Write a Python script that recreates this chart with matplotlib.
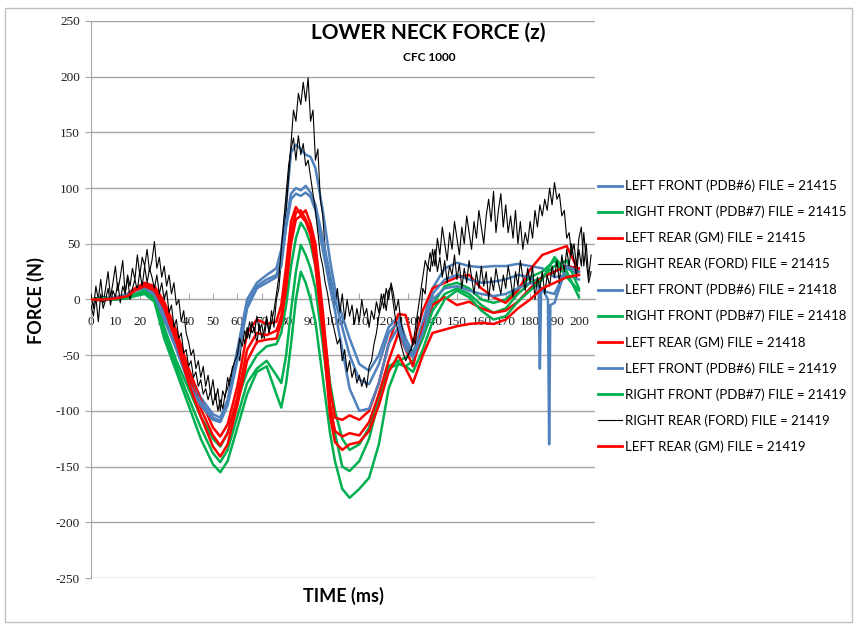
import matplotlib
matplotlib.use("Agg")
import matplotlib.pyplot as plt
from matplotlib.patches import Rectangle

plt.rcParams["axes.unicode_minus"] = False

# time grid (ms) shared by the filtered (coloured) channels
T_MAIN = [0, 5, 10, 15, 18, 22, 26, 30, 35, 40, 45, 50, 53, 56, 60, 64, 68, 72, 76, 78,
          80, 82, 84, 86, 88, 90, 92, 95, 98, 100, 103, 106, 110, 114, 118, 122, 126, 129, 132, 136,
          140, 145, 150, 155, 160, 165, 170, 175, 180, 185, 190, 195, 200]

LF_21415 = [0, 2, 0, 3, 8, 10, 5, -12, -35, -65, -88, -103, -106, -90, -45, 0, 15, 22, 28, 45,
            85, 132, 139, 135, 130, 128, 118, 80, 35, 10, -15, -35, -58, -64, -50, -25, -15, -35, -48, -20,
            10, 28, 33, 30, 29, 30, 30, 32, 30, 28, 20, 22, 18]
RF_21415 = [0, 2, 0, 2, 5, 8, 2, -25, -55, -80, -105, -125, -132, -120, -90, -65, -50, -42, -40, -30,
            -5, 30, 55, 69, 62, 50, 30, -20, -75, -100, -125, -135, -130, -115, -85, -60, -55, -52, -48, -30,
            -5, 12, 15, 10, 0, -3, 0, 10, 20, 25, 35, 20, 8]
LR_21415 = [0, -1, 1, 5, 10, 15, 12, -2, -28, -62, -90, -115, -123, -112, -78, -30, -18, -22, -20, -5,
            30, 70, 83, 76, 80, 68, 50, -10, -80, -106, -108, -104, -108, -100, -75, -40, -13, -14, -40, -10,
            10, 15, 20, 22, 10, 2, -3, 8, 27, 40, 44, 48, 25]
RF_21418 = [0, 1, 1, 2, 4, 6, 0, -30, -60, -88, -115, -138, -146, -135, -105, -75, -62, -55, -68, -75,
            -50, -10, 25, 49, 40, 28, 10, -40, -95, -120, -150, -154, -145, -125, -90, -62, -58, -60, -55, -35,
            -10, 5, 10, 5, -5, -12, -8, 5, 15, 20, 30, 35, 10]
LR_21418 = [0, 0, 0, 4, 9, 14, 10, -5, -32, -68, -98, -122, -131, -120, -88, -45, -30, -32, -28, -15,
            20, 60, 78, 80, 72, 62, 40, -20, -95, -118, -123, -120, -122, -110, -85, -55, -30, -45, -60, -25,
            -5, 2, -5, -2, -8, -12, -10, -2, 10, 20, 25, 30, 28]
RF_21419 = [0, 0, 0, 1, 3, 5, -2, -35, -65, -95, -125, -148, -155, -145, -115, -85, -65, -60, -85, -97,
            -75, -40, 0, 25, 15, 0, -20, -70, -120, -145, -170, -178, -170, -160, -130, -80, -57, -60, -65, -45,
            -20, 0, 8, 2, -10, -18, -15, -2, 8, 18, 38, 25, 2]
LR_21419 = [0, 0, 1, 3, 8, 12, 8, -8, -38, -75, -105, -132, -141, -130, -95, -55, -38, -36, -35, -20,
            10, 50, 72, 75, 70, 58, 30, -30, -105, -128, -135, -130, -128, -118, -95, -65, -50, -62, -75, -50,
            -30, -27, -24, -22, -21, -22, -18, -8, 0, 10, 15, 20, 22]

# the two left front channels with the dropouts near 184 and 188 ms
T_LF18 = [0, 5, 10, 15, 18, 22, 26, 30, 35, 40, 45, 50, 53, 56, 60, 64, 68, 72, 76, 78,
          80, 82, 84, 86, 88, 90, 92, 95, 98, 100, 103, 106, 110, 114, 118, 122, 126, 129, 132, 136,
          140, 145, 150, 155, 160, 165, 170, 175, 180, 183.5, 184, 184.5, 190, 195, 200]
LF_21418 = [0, 1, 2, 5, 9, 12, 6, -15, -40, -70, -92, -106, -109, -92, -50, -5, 12, 18, 22, 35,
            70, 95, 100, 98, 102, 96, 85, 55, 22, 0, -25, -50, -72, -76, -58, -30, -20, -40, -50, -25,
            5, 18, 22, 18, 15, 16, 18, 22, 20, 12, -62, 8, 5, 28, 22]
T_LF19 = [0, 5, 10, 15, 18, 22, 26, 30, 35, 40, 45, 50, 53, 56, 60, 64, 68, 72, 76, 78,
          80, 82, 84, 86, 88, 90, 92, 95, 98, 100, 103, 106, 110, 114, 118, 122, 126, 129, 132, 136,
          140, 145, 150, 155, 160, 165, 170, 175, 180, 185, 187.3, 187.8, 188.3, 190, 195, 200]
LF_21419 = [0, 0, 1, 4, 8, 11, 4, -18, -45, -75, -95, -108, -110, -95, -55, -8, 10, 15, 20, 30,
            65, 90, 95, 93, 96, 92, 80, 45, 10, -10, -45, -80, -100, -98, -75, -40, -25, -45, -52, -30,
            0, 10, 12, 8, 5, 3, 5, 10, 15, 10, 0, -130, -5, -3, 30, 25]

# unfiltered right rear channels, 1 ms steps from 0 to 205 ms
T_RR = list(range(206))
RR_21415 = [5, -8, 12, 0, 18, -3, 10, 25, 2, 15,
            30, 8, 20, 35, 5, 22, 12, 28, 18, 40,
            22, 38, 30, 45, 25, 35, 52, 28, 38, 20,
            30, 12, 22, 5, 15, -5, 0, -20, -10, -30,
            -38, -50, -45, -62, -55, -70, -60, -78, -68, -85,
            -72, -90, -80, -100, -82, -88, -70, -78, -60, -65,
            -45, -55, -30, -40, -25, -35, -20, -30, -15, -28,
            -22, -35, -18, -30, -10, -25, 0, 10, 35, 60,
            80, 110, 140, 170, 160, 185, 175, 195, 178, 199,
            160, 170, 125, 135, 90, 75, 45, 30, 15, 8,
            -5, 10, -12, 5, -18, 0, -15, -5, -22, -8,
            -20, 0, -15, -8, -25, -10, -18, -2, -12, 5,
            -8, 10, 0, 15, 5, -10, 0, -20, -30, -40,
            -45, -50, -35, -40, -15, -20, 10, 5, 30, 25,
            45, 30, 55, 40, 65, 50, 35, 60, 45, 70,
            55, 40, 65, 50, 75, 60, 45, 70, 55, 80,
            65, 50, 75, 90, 70, 97, 60, 80, 95, 65,
            85, 60, 75, 55, 80, 50, 70, 45, 60, 50,
            70, 55, 80, 65, 85, 75, 90, 80, 100, 85,
            105, 90, 95, 75, 80, 55, 60, 40, 50, 30,
            55, 65, 30, 50, 20, 40]
RR_21419 = [-5, -15, 2, -20, 5, -8, 0, 10, -5, 8,
            2, 15, -3, 12, 5, 20, 0, 10, 18, 8,
            25, 12, 30, 15, 28, 20, 10, 22, 5, 15,
            0, 8, -12, -5, -25, -18, -35, -30, -48, -45,
            -60, -55, -70, -65, -78, -72, -85, -80, -90, -82,
            -95, -85, -100, -90, -98, -85, -80, -70, -62, -55,
            -50, -35, -42, -28, -35, -20, -30, -25, -40, -22,
            -35, -28, -15, -30, -20, -10, 5, 20, 45, 70,
            95, 120, 135, 145, 125, 147, 130, 140, 120, 125,
            110, 95, 80, 60, 40, 30, 15, 5, -10, -20,
            -30, -40, -35, -55, -45, -65, -55, -70, -62, -75,
            -68, -78, -70, -79, -60, -55, -40, -30, -15, -5,
            5, -10, 8, 12, -5, -20, -30, -40, -48, -55,
            -50, -45, -40, -25, -10, 5, 20, 35, 28, 42,
            30, 45, 25, 38, 20, 35, 15, 30, 22, 40,
            18, 32, 10, 28, 15, 35, 20, 5, 25, 10,
            30, 12, 25, 0, 20, 8, 28, 15, 5, 22,
            10, 30, 18, 2, 25, 12, 35, 20, 8, 28,
            15, 30, 0, 20, 10, 25, 5, 22, 12, 30,
            20, 35, 15, 40, 25, 45, 30, 50, 35, 20,
            45, 30, 60, 35, 15, 25]

X_TICKS = list(range(0, 201, 10))
Y_TICKS = list(range(-250, 251, 50))

BLUE = "#4F81BD"
GREEN = "#00B050"
RED = "#FF0000"

series = [
    ("LEFT FRONT (PDB#6) FILE = 21415", T_MAIN, LF_21415, BLUE),
    ("RIGHT FRONT (PDB#7) FILE = 21415", T_MAIN, RF_21415, GREEN),
    ("LEFT REAR (GM) FILE = 21415", T_MAIN, LR_21415, RED),
    ("RIGHT REAR (FORD) FILE = 21415", T_RR, RR_21415, "black"),
    ("LEFT FRONT (PDB#6) FILE = 21418", T_LF18, LF_21418, BLUE),
    ("RIGHT FRONT (PDB#7) FILE = 21418", T_MAIN, RF_21418, GREEN),
    ("LEFT REAR (GM) FILE = 21418", T_MAIN, LR_21418, RED),
    ("LEFT FRONT (PDB#6) FILE = 21419", T_LF19, LF_21419, BLUE),
    ("RIGHT FRONT (PDB#7) FILE = 21419", T_MAIN, RF_21419, GREEN),
    ("RIGHT REAR (FORD) FILE = 21419", T_RR, RR_21419, "black"),
    ("LEFT REAR (GM) FILE = 21419", T_MAIN, LR_21419, RED),
]

fig = plt.figure(figsize=(8.56, 6.28), dpi=100)
ax = fig.add_axes([0.1063, 0.0796, 0.5888, 0.887])

for label, t, v, color in series:
    lw = 0.8 if color == "black" else 1.8
    ax.plot(t, v, color=color, linewidth=lw, label=label, zorder=3)

ax.set_xlim(0, 206.6)
ax.set_ylim(-250, 250)
ax.set_xticks(X_TICKS)
ax.set_yticks(Y_TICKS)
ax.set_axisbelow(True)

ax.grid(axis="y", color="#A6A6A6", linewidth=1)
for side in ["top", "right"]:
    ax.spines[side].set_visible(False)
ax.spines["left"].set_color("#A6A6A6")
ax.spines["bottom"].set_color("#A6A6A6")
ax.spines["bottom"].set_position(("data", 0))

ax.tick_params(axis="x", direction="in", length=4, color="#A6A6A6", pad=12,
               labelsize=9.5, labelcolor="#202020")
ax.tick_params(axis="y", direction="out", length=4, color="#A6A6A6", pad=4,
               labelsize=9.5, labelcolor="#202020")
for lab in ax.get_xticklabels() + ax.get_yticklabels():
    lab.set_family("Liberation Serif")

fig.text(0.5, 0.9475, "LOWER NECK FORCE (z)", ha="center", va="center",
         fontsize=15, fontweight="bold", family="Lato")
fig.text(0.501, 0.909, "CFC 1000", ha="center", va="center",
         fontsize=8.5, fontweight="bold", family="Lato")
fig.text(0.042, 0.522, "FORCE (N)", ha="center", va="center", rotation=90,
         fontsize=13, fontweight="bold", family="Lato")
fig.text(0.4007, 0.051, "TIME (ms)", ha="center", va="center",
         fontsize=13, fontweight="bold", family="Lato")

leg = ax.legend(loc="upper left", bbox_to_anchor=(0.6986, 0.7135),
                bbox_transform=fig.transFigure, frameon=False,
                prop={"family": "Lato", "size": 9.5}, handlelength=1.82,
                handletextpad=0.23, labelspacing=1.02, borderpad=0, borderaxespad=0)
for h in leg.get_lines():
    h.set_linewidth(2.0)
leg.get_lines()[3].set_linewidth(0.8)
leg.get_lines()[9].set_linewidth(0.8)

fig.patches.append(Rectangle((5 / 856, 1 - 622 / 628), 847 / 856, 614 / 628,
                             transform=fig.transFigure, fill=False,
                             edgecolor="#C0C0C0", linewidth=1))

fig.savefig("out.png", dpi=100)
